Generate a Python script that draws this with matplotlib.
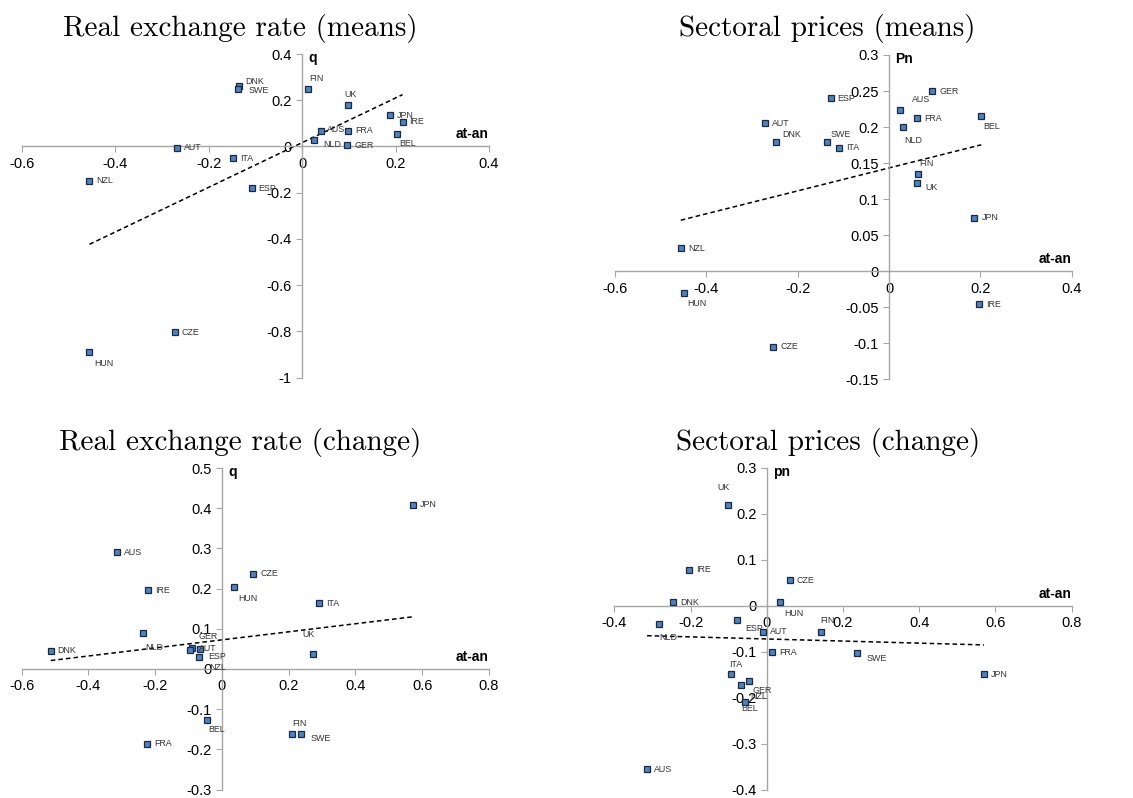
import numpy as np
import matplotlib.pyplot as plt
from matplotlib.ticker import FuncFormatter, MultipleLocator

plt.rcParams['font.family'] = ['Liberation Sans', 'DejaVu Sans']

# --- data ---
rer_mean_names = ['DNK', 'SWE', 'FIN', 'UK', 'JPN', 'IRE', 'AUS', 'FRA', 'BEL',
                  'NLD', 'GER', 'AUT', 'ITA', 'NZL', 'ESP', 'CZE', 'HUN']
rer_mean_x = [-0.135, -0.137, 0.0135, 0.099, 0.188, 0.215, 0.041, 0.098, 0.203,
              0.025, 0.097, -0.268, -0.147, -0.455, -0.108, -0.273, -0.455]
rer_mean_y = [0.26, 0.247, 0.249, 0.178, 0.134, 0.107, 0.065, 0.067, 0.052,
              0.029, 0.006, -0.006, -0.052, -0.148, -0.18, -0.805, -0.891]

pn_mean_names = ['GER', 'ESP', 'AUS', 'FRA', 'BEL', 'AUT', 'NLD', 'DNK', 'SWE',
                 'ITA', 'FIN', 'UK', 'JPN', 'NZL', 'HUN', 'IRE', 'CZE']
pn_mean_x = [0.095, -0.128, 0.024, 0.061, 0.202, -0.271, 0.030, -0.248, -0.136,
             -0.109, 0.063, 0.062, 0.187, -0.456, -0.450, 0.197, -0.253]
pn_mean_y = [0.250, 0.240, 0.223, 0.212, 0.215, 0.205, 0.200, 0.179, 0.179,
             0.171, 0.135, 0.122, 0.074, 0.032, -0.030, -0.046, -0.105]

rer_chg_names = ['JPN', 'AUS', 'CZE', 'IRE', 'HUN', 'ITA', 'NLD', 'DNK', 'AUT',
                 'NZL', 'GER', 'ESP', 'UK', 'BEL', 'FIN', 'SWE', 'FRA']
rer_chg_x = [0.571, -0.315, 0.094, -0.221, 0.037, 0.291, -0.236, -0.513, -0.091,
             -0.096, -0.065, -0.068, 0.273, -0.046, 0.211, 0.238, -0.225]
rer_chg_y = [0.408, 0.290, 0.237, 0.196, 0.203, 0.164, 0.089, 0.045, 0.052,
             0.047, 0.050, 0.030, 0.038, -0.127, -0.161, -0.161, -0.186]

pn_chg_names = ['UK', 'IRE', 'CZE', 'DNK', 'HUN', 'NLD', 'ESP', 'AUT', 'FIN',
                'FRA', 'SWE', 'JPN', 'ITA', 'NZL', 'GER', 'BEL', 'AUS']
pn_chg_x = [-0.103, -0.203, 0.060, -0.246, 0.036, -0.284, -0.079, -0.009, 0.141,
            0.014, 0.238, 0.570, -0.094, -0.067, -0.046, -0.057, -0.314]
pn_chg_y = [0.219, 0.079, 0.056, 0.008, 0.008, -0.040, -0.032, -0.056, -0.056,
            -0.101, -0.103, -0.149, -0.149, -0.173, -0.164, -0.209, -0.356]

# label offsets in pixels (dx right, dy down); default is right of the marker
off1 = {'DNK': (6, -5), 'SWE': (10, 1), 'FIN': (1, -10), 'UK': (-4, -11),
        'BEL': (2, 9), 'NLD': (9, 5), 'HUN': (5, 11), 'AUS': (6, -2)}
off2 = {'AUS': (12, -11), 'BEL': (2, 10), 'NLD': (2, 13), 'DNK': (6, -8),
        'SWE': (4, -8), 'FIN': (1, -10), 'UK': (8, 4), 'HUN': (4, 11)}
off3 = {'HUN': (4, 11), 'NLD': (2, 14), 'UK': (-11, -19), 'BEL': (2, 10),
        'FIN': (0, -10), 'SWE': (9, 5), 'GER': (-2, -12), 'NZL': (19, 17),
        'ESP': (9, 0)}
off4 = {'UK': (-10, -18), 'HUN': (4, 11), 'NLD': (1, 13), 'ESP': (9, 8),
        'FIN': (0, -11), 'SWE': (9, 5), 'ITA': (-2, -10), 'GER': (3, 9),
        'NZL': (9, 11), 'BEL': (-4, 7)}

W, H = 1133, 798
fig = plt.figure(figsize=(W / 100, H / 100), dpi=100)


def fmt(v, pos):
    return '%g' % round(v, 3)


def panel(px, xlim, ylim, ystep, names, xs, ys, offs, ylab, title, tpos):
    x0, x1, yt, yb = px
    ax = fig.add_axes([x0 / W, 1 - yb / H, (x1 - x0) / W, (yb - yt) / H])
    ax.set_xlim(*xlim)
    ax.set_ylim(*ylim)
    for s in ['top', 'right']:
        ax.spines[s].set_visible(False)
    for s in ['left', 'bottom']:
        ax.spines[s].set_position(('data', 0))
        ax.spines[s].set_color('#a6a6a6')
        ax.spines[s].set_linewidth(1)
    ax.xaxis.set_major_locator(MultipleLocator(0.2))
    ax.yaxis.set_major_locator(MultipleLocator(ystep))
    ax.xaxis.set_major_formatter(FuncFormatter(fmt))
    ax.yaxis.set_major_formatter(FuncFormatter(fmt))
    ax.tick_params(direction='out', length=4, color='#a6a6a6', labelsize=10.5,
                   labelcolor='black', pad=3.5)
    ax.patch.set_alpha(0)

    xs = np.array(xs)
    ys = np.array(ys)
    b, a = np.polyfit(xs, ys, 1)
    xx = np.array([xs.min(), xs.max()])
    ax.plot(xx, a + b * xx, ls=(0, (3, 2)), color='black', lw=1.1, zorder=2)
    ax.plot(xs, ys, 's', ms=4.2, mfc='#4f81bd', mec='#1a2a40', mew=0.9,
            zorder=3, clip_on=False)
    for n, x, y in zip(names, xs, ys):
        dx, dy = offs.get(n, (7, 0))
        ax.annotate(n, (x, y), xytext=(dx, -dy), textcoords='offset pixels',
                    ha='left', va='center', fontsize=6.4, color='#333333',
                    zorder=4)

    ax.annotate(ylab, (0, ylim[1]), xytext=(6, -4), textcoords='offset pixels',
                ha='left', va='center', fontsize=10, fontweight='bold')
    ax.annotate('at-an', (xlim[1], 0), xytext=(0, 12), textcoords='offset pixels',
                ha='right', va='center', fontsize=10, fontweight='bold')
    fig.text(tpos[0] / W, 1 - tpos[1] / H, title, family='cmr10', fontsize=21,
             ha='center', va='baseline')
    return ax


panel((21.7, 489, 54, 377.5), (-0.6, 0.4), (-1, 0.4), 0.2,
      rer_mean_names, rer_mean_x, rer_mean_y, off1, 'q',
      'Real exchange rate (means)', (240, 36))
panel((615, 1071.7, 55, 379.3), (-0.6, 0.4), (-0.15, 0.3), 0.05,
      pn_mean_names, pn_mean_x, pn_mean_y, off2, 'Pn',
      'Sectoral prices (means)', (827, 36))
panel((21.7, 489, 468, 789.5), (-0.6, 0.8), (-0.3, 0.5), 0.1,
      rer_chg_names, rer_chg_x, rer_chg_y, off3, 'q',
      'Real exchange rate (change)', (240, 450))
panel((614.3, 1071.7, 468, 789.5), (-0.4, 0.8), (-0.4, 0.3), 0.1,
      pn_chg_names, pn_chg_x, pn_chg_y, off4, 'pn',
      'Sectoral prices (change)', (828, 450))

fig.savefig('out.png', dpi=100)
